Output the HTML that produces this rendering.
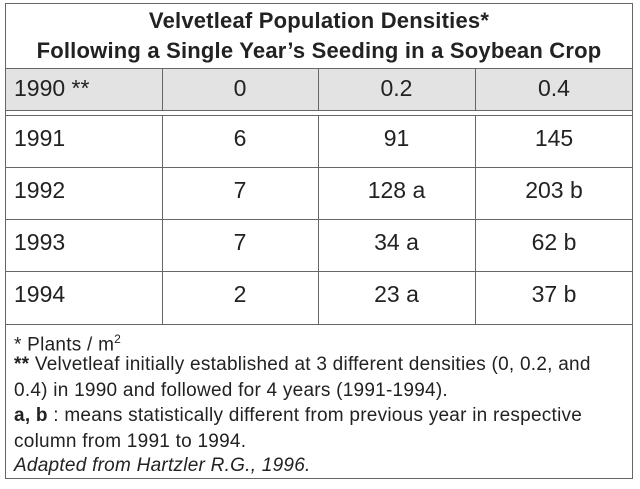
<!DOCTYPE html>
<html><head><meta charset="utf-8"><style>
body{margin:0;width:640px;height:489px;background:#fff;font-family:"Liberation Sans",sans-serif;color:#222;position:relative;overflow:hidden}
.a{position:absolute}
.hl{position:absolute;left:5px;width:628px;height:1px;background:#666}
.vl{position:absolute;width:1px;background:#666}
.t{position:absolute;font-size:23px;text-align:center;line-height:22px}
.f{position:absolute;left:14px;font-size:19px;line-height:22px;white-space:nowrap;letter-spacing:0.25px}
</style></head><body>
<div class="a" style="left:5px;top:68px;width:628px;height:42px;background:#e3e3e3"></div>
<div class="a" style="left:5px;top:3px;width:626px;height:474px;border:1px solid #666"></div>
<div class="a" style="left:5px;top:6px;width:628px;text-align:center;font-weight:bold;font-size:22px;line-height:30px;letter-spacing:0.2px">Velvetleaf Population Densities*<br>Following a Single Year’s Seeding in a Soybean Crop</div>
<div class="hl" style="top:68px"></div><div class="hl" style="top:110px"></div><div class="hl" style="top:115px"></div>
<div class="hl" style="top:167px"></div><div class="hl" style="top:219px"></div><div class="hl" style="top:271px"></div><div class="hl" style="top:324px"></div>
<div class="vl" style="left:162px;top:68px;height:42px"></div><div class="vl" style="left:318px;top:68px;height:42px"></div><div class="vl" style="left:475px;top:68px;height:42px"></div>
<div class="vl" style="left:162px;top:115px;height:209px"></div><div class="vl" style="left:318px;top:115px;height:209px"></div><div class="vl" style="left:475px;top:115px;height:209px"></div>
<div id="cells"></div>
<div class="f" style="top:328px">* Plants / m<sup style="font-size:12px">2</sup></div>
<div class="f" style="top:354px"><b>**</b> Velvetleaf initially established at 3 different densities (0, 0.2, and</div>
<div class="f" style="top:380px">0.4) in 1990 and followed for 4 years (1991-1994).</div>
<div class="f" style="top:405px"><b>a, b</b> : means statistically different from previous year in respective</div>
<div class="f" style="top:431px">column from 1991 to 1994.</div>
<div class="f" style="top:455px;font-style:italic">Adapted from Hartzler R.G., 1996.</div>
<script>
const rows=["1990 **","1991","1992","1993","1994"];
const col0=["0","6","7","7","2"];
const col2=["0.2","91","128 a","34 a","23 a"];
const col4=["0.4","145","203 b","62 b","37 b"];
const tops=[77,127,179,231,283];
const c=document.getElementById('cells');
rows.forEach((r,i)=>{
 [[r,14,140,'left'],[col0[i],162,156,'center'],[col2[i],318,157,'center'],[col4[i],475,158,'center']].forEach(([txt,x,w,al],j)=>{
  const d=document.createElement('div');d.className='t';
  
  
  d.style.left=x+'px';d.style.width=w+'px';d.style.top=tops[i]+'px';d.style.textAlign=al;d.textContent=txt;c.appendChild(d);
 });
});
</script>
</body></html>
